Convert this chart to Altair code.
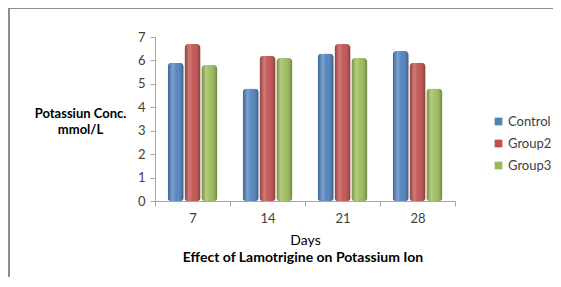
import altair as alt
import pandas as pd

days = ["7", "14", "21", "28"]
groups = ["Control", "Group2", "Group3"]
control = [5.9, 4.8, 6.3, 6.4]
group2 = [6.7, 6.2, 6.7, 5.9]
group3 = [5.8, 6.1, 6.1, 4.8]
colors = ["#4F81BD", "#C0504D", "#9BBB59"]
chart_title = "Effect of Lamotrigine on Potassium Ion"

rows = []
for g, vals in zip(groups, [control, group2, group3]):
    for d, v in zip(days, vals):
        rows.append({"Days": d, "Group": g, "Value": v})
df = pd.DataFrame(rows)

FONT = "Lato"

x_enc = alt.X("Days:N", sort=days, title="Days",
              scale=alt.Scale(paddingInner=0, paddingOuter=0),
              axis=alt.Axis(labelAngle=0, labelFontSize=13, labelColor="#404040",
                            titleFontSize=14, titleFontWeight="normal", titleColor="#000000",
                            titlePadding=8, domainColor="#A6A6A6", tickColor="#A6A6A6",
                            tickBand="extent", labelPadding=6, tickSize=5, labelFont=FONT, titleFont=FONT))
xo_enc = alt.XOffset("Group:N", sort=groups,
                     scale=alt.Scale(domain=groups, paddingOuter=0.75, paddingInner=0.05))
y_enc = alt.Y("Value:Q",
              scale=alt.Scale(domain=[0, 7]),
              axis=alt.Axis(values=[0, 1, 2, 3, 4, 5, 6, 7], grid=False, labelFontSize=13,
                            labelColor="#404040", domainColor="#A6A6A6", tickColor="#A6A6A6",
                            tickSize=5, labelPadding=5, labelFont=FONT,
                            title=["Potassiun Conc.", "mmol/L"], titleAngle=0,
                            titleAlign="center", titleX=-75, titleY=76, titleFontSize=13,
                            titleFontWeight="bold", titleColor="#000000", titleFont=FONT,
                            titleBaseline="middle", titleLineHeight=16, labelOverlap=False))

bars = alt.Chart(df).mark_bar(cornerRadiusTopLeft=4, cornerRadiusTopRight=4,
                              cornerRadiusBottomLeft=3, cornerRadiusBottomRight=3).encode(
    x=x_enc, xOffset=xo_enc, y=y_enc,
    color=alt.Color("Group:N", sort=groups,
                    scale=alt.Scale(domain=groups, range=colors),
                    legend=alt.Legend(title=None, orient="none", legendX=337, legendY=78,
                                      symbolType="square", symbolSize=60, labelFontSize=13,
                                      labelColor="#404040", rowPadding=8, labelFont=FONT,
                                      symbolStrokeWidth=0, labelOffset=3))
)

shade = alt.Chart(df).mark_bar(
    cornerRadiusTopLeft=4, cornerRadiusTopRight=4,
    cornerRadiusBottomLeft=3, cornerRadiusBottomRight=3,
    color=alt.Gradient(gradient="linear", x1=0, y1=0, x2=1, y2=0,
                       stops=[alt.GradientStop(offset=0, color="rgba(0,0,0,0.25)"),
                              alt.GradientStop(offset=0.3, color="rgba(255,255,255,0.25)"),
                              alt.GradientStop(offset=0.55, color="rgba(255,255,255,0.05)"),
                              alt.GradientStop(offset=1, color="rgba(0,0,0,0.3)")])
).encode(x=x_enc, xOffset=xo_enc, y=y_enc)

frame = alt.Chart(df).mark_rule(color="#8C8C8C", strokeWidth=1).encode(
    x=alt.value(-146), y=alt.value(-29), y2=alt.value(240))
frame_top = alt.Chart(df).mark_rule(color="#8C8C8C", strokeWidth=1).encode(
    x=alt.value(-146), x2=alt.value(400), y=alt.value(-29))

title_text = alt.Chart(pd.DataFrame({"t": [chart_title]})).mark_text(
    font=FONT, fontSize=14, fontWeight="bold", color="#000000", align="center", baseline="middle"
).encode(text="t:N", x=alt.value(148), y=alt.value(221))

chart = alt.layer(frame, frame_top, bars, shade, title_text).properties(
    width=300, height=164,
    padding={"left": 147, "top": 29, "right": 98, "bottom": 76},
    autosize=alt.AutoSizeParams(type="none"),
    background="white",
).configure_view(strokeWidth=0)

chart.save("out.html", embed_options={"renderer": "svg", "actions": False})
